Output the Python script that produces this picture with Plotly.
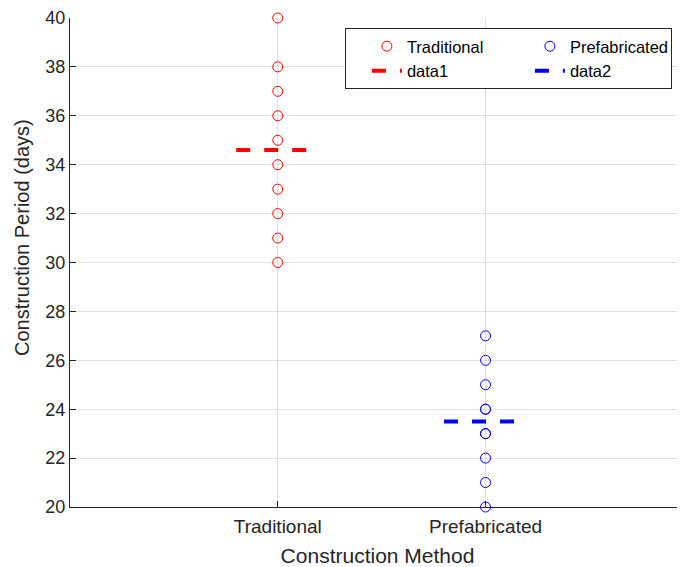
import numpy as np
import plotly.graph_objects as go

categories = ["Traditional", "Prefabricated"]
traditional = [30, 31, 32, 33, 34, 35, 36, 37, 38, 40]
prefabricated = [20, 21, 22, 23, 23, 24, 24, 25, 26, 27]
y_ticks = [20, 22, 24, 26, 28, 30, 32, 34, 36, 38, 40]

RED = "rgb(255,0,0)"
BLUE = "rgb(0,0,255)"
DARK = "rgb(38,38,38)"
FONT = "Liberation Sans, Arial, sans-serif"

fig = go.Figure()
fig.add_trace(go.Scatter(
    x=[1] * len(traditional), y=traditional, mode="markers", name="Traditional",
    legendgroup="g1",
    marker=dict(symbol="circle-open", size=10, color=RED, line=dict(width=1, color=RED)),
    cliponaxis=False))
fig.add_trace(go.Scatter(
    x=[2] * len(prefabricated), y=prefabricated, mode="markers", name="Prefabricated",
    legendgroup="g2",
    marker=dict(symbol="circle-open", size=10, color=BLUE, line=dict(width=1, color=BLUE)),
    cliponaxis=False))
m1 = float(np.mean(traditional))
m2 = float(np.mean(prefabricated))
fig.add_trace(go.Scatter(
    x=[0.8, 1.2], y=[m1, m1], mode="lines", name="data1", legendgroup="g1",
    line=dict(color=RED, width=4, dash="14px,14px")))
fig.add_trace(go.Scatter(
    x=[1.8, 2.2], y=[m2, m2], mode="lines", name="data2", legendgroup="g2",
    line=dict(color=BLUE, width=4, dash="14px,14px")))

fig.update_layout(
    width=685, height=567,
    margin=dict(l=62, r=8, t=10, b=68, autoexpand=False),
    paper_bgcolor="white", plot_bgcolor="white",
    font=dict(family=FONT, color=DARK),
    showlegend=True,
    legend=dict(
        orientation="h", x=0.447, xanchor="left", y=0.9796, yanchor="top",
        bgcolor="white", bordercolor=DARK, borderwidth=1,
        font=dict(size=16.5, color="black"),
        entrywidth=96, entrywidthmode="pixels", indentation=22,
        traceorder="grouped", tracegroupgap=0,
    ),
    xaxis=dict(
        range=[0, 2.96], tickvals=[1, 2], ticktext=categories,
        showgrid=True, gridcolor="rgb(225,225,225)", gridwidth=1,
        zeroline=False, showline=True, linecolor=DARK, linewidth=1,
        ticks="inside", ticklen=6, tickcolor=DARK, automargin=False,
        tickfont=dict(size=19, color=DARK), ticklabelstandoff=2,
        title=dict(text="Construction Method", font=dict(size=21, color=DARK), standoff=12),
    ),
    yaxis=dict(
        range=[20, 40], tickvals=y_ticks,
        showgrid=True, gridcolor="rgb(225,225,225)", gridwidth=1,
        zeroline=False, showline=True, linecolor=DARK, linewidth=1,
        ticks="inside", ticklen=6, tickcolor=DARK, automargin=False,
        tickfont=dict(size=18, color=DARK), ticklabeloverflow="allow",
    ),
    annotations=[dict(
        text="Construction Period (days)", textangle=-90,
        xref="paper", yref="paper", x=0, xshift=-48, y=0.55,
        xanchor="center", yanchor="middle",
        showarrow=False, font=dict(size=20, color=DARK))],
)

fig.write_html("out.html")
